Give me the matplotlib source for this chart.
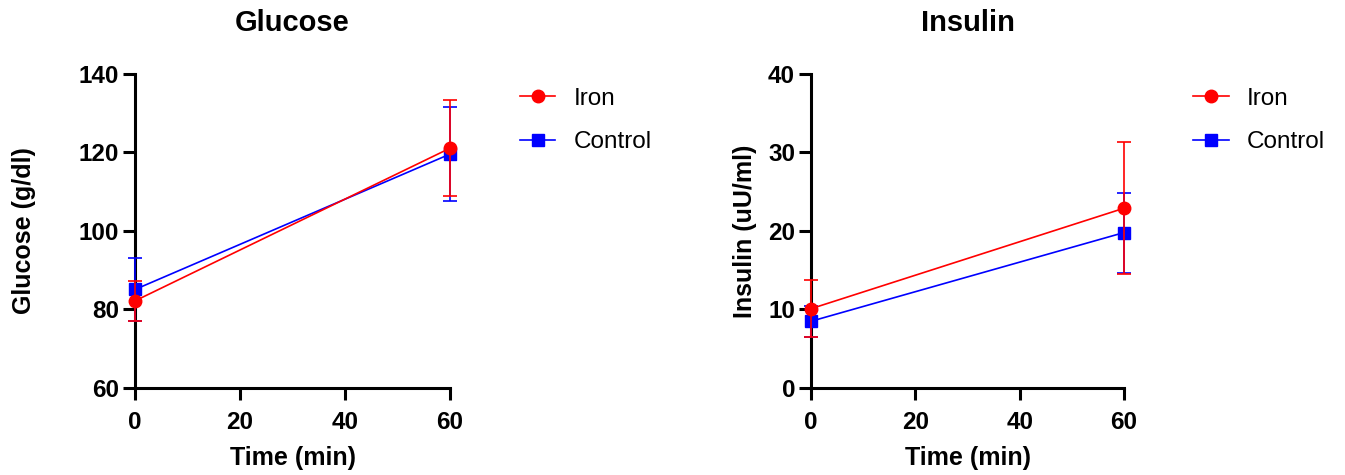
import matplotlib.pyplot as plt
from matplotlib.lines import Line2D

plt.rcParams['font.family'] = ['Liberation Sans', 'DejaVu Sans']

time_min = [0, 60]

glucose_iron = [82.2, 121.1]
glucose_iron_err = [5.1, 12.2]
glucose_control = [85.1, 119.6]
glucose_control_err = [8.0, 12.0]

insulin_iron = [10.1, 22.9]
insulin_iron_err = [3.6, 8.4]
insulin_control = [8.5, 19.8]
insulin_control_err = [2.0, 5.1]

RED = '#ff0000'
BLUE = '#0000ff'


def unclip(container):
    line, caps, bars = container.lines
    for art in [line, *caps, *bars]:
        art.set_clip_on(False)


def draw_panel(ax, title, ylabel, iron, iron_err, ctrl, ctrl_err, ylim, yticks, ylabelpad):
    c = ax.errorbar(time_min, ctrl, yerr=ctrl_err, color=BLUE, marker='s', markersize=8,
                    lw=1.2, capsize=5, capthick=1.2, elinewidth=1.2, zorder=3)
    unclip(c)
    c = ax.errorbar(time_min, iron, yerr=iron_err, color=RED, marker='o', markersize=9,
                    lw=1.2, capsize=5, capthick=1.2, elinewidth=1.2, zorder=4)
    unclip(c)

    ax.set_xlim(0, 60)
    ax.set_ylim(*ylim)
    ax.set_xticks([0, 20, 40, 60])
    ax.set_yticks(yticks)
    ax.set_title(title, fontsize=21, fontweight='bold', pad=31)
    ax.set_xlabel('Time (min)', fontsize=18, fontweight='bold', labelpad=9)
    ax.set_ylabel(ylabel, fontsize=18, fontweight='bold', labelpad=ylabelpad)

    for side in ['top', 'right']:
        ax.spines[side].set_visible(False)
    for side in ['left', 'bottom']:
        ax.spines[side].set_linewidth(2.2)
    ax.tick_params(width=2.2, length=8.5, labelsize=17.5, pad=3)
    ax.tick_params(axis='x', pad=8)
    for lbl in ax.get_xticklabels() + ax.get_yticklabels():
        lbl.set_fontweight('bold')

    handles = [
        Line2D([], [], color=RED, marker='o', markersize=9, lw=1.2),
        Line2D([], [], color=BLUE, marker='s', markersize=8, lw=1.2),
    ]
    ax.legend(handles, ['Iron', 'Control'], loc='upper left', bbox_to_anchor=(1.222, 0.956),
              frameon=False, fontsize=17.5, handlelength=1.45, handletextpad=0.75,
              labelspacing=0.88, borderaxespad=0, borderpad=0)


fig = plt.figure(figsize=(13.45, 4.75), dpi=100)
ax1 = fig.add_axes([0.1004, 0.1832, 0.2342, 0.661])
ax2 = fig.add_axes([0.603, 0.1832, 0.2327, 0.661])

draw_panel(ax1, 'Glucose', 'Glucose (g/dl)', glucose_iron, glucose_iron_err,
           glucose_control, glucose_control_err, (60, 140), [60, 80, 100, 120, 140], 31)
draw_panel(ax2, 'Insulin', 'Insulin (uU/ml)', insulin_iron, insulin_iron_err,
           insulin_control, insulin_control_err, (0, 40), [0, 10, 20, 30, 40], 8)

fig.savefig('out.png', dpi=100)
